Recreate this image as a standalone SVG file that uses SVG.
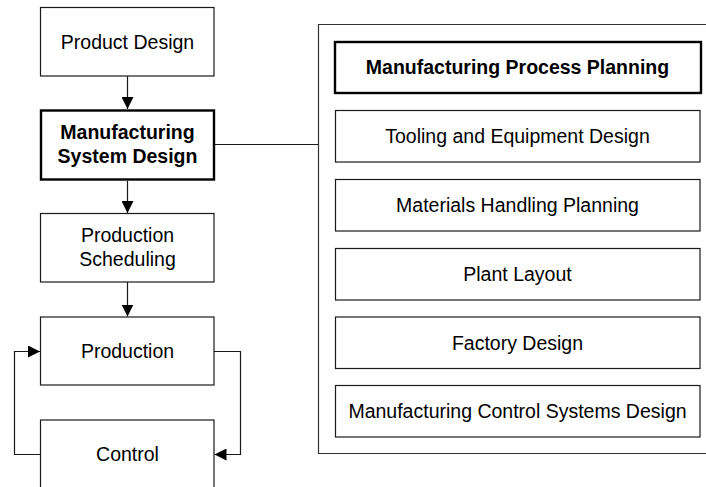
<svg xmlns="http://www.w3.org/2000/svg" width="706" height="487" viewBox="0 0 706 487">
  <defs>
    <style>
      .box { fill: #ffffff; stroke: #1a1a1a; stroke-width: 1.2; }
      .key { fill: #ffffff; stroke: #000000; stroke-width: 2.4; }
      .frame { fill: none; stroke: #333333; stroke-width: 1.2; }
      .link { fill: none; stroke: #1a1a1a; stroke-width: 1.2; }
      .label { font-family: "Liberation Sans", Arial, sans-serif; font-size: 19.5px; fill: #000000; text-anchor: middle; }
      .bold { font-weight: bold; }
    </style>
    <marker id="arrow" viewBox="0 0 12 12" refX="12" refY="6" markerWidth="12" markerHeight="12" markerUnits="userSpaceOnUse" orient="auto">
      <path d="M0,0 L12,6 L0,12 Z" fill="#000000"/>
    </marker>
  </defs>

  <rect id="background" x="0" y="0" width="706" height="487" fill="#ffffff"/>

  <!-- planning activities frame (open to the right) -->
  <g id="planning-frame">
    <path class="frame" d="M710,24.5 L318.5,24.5 L318.5,453.5 L710,453.5"/>
  </g>

  <!-- connectors -->
  <g id="connectors">
    <line class="link" x1="127.5" y1="76" x2="127.5" y2="109" marker-end="url(#arrow)"/>
    <line class="link" x1="127.5" y1="181" x2="127.5" y2="213" marker-end="url(#arrow)"/>
    <line class="link" x1="127.5" y1="282" x2="127.5" y2="316.5" marker-end="url(#arrow)"/>
    <line class="link" x1="215" y1="144.5" x2="318.5" y2="144.5"/>
    <polyline class="link" points="214,351.5 240.5,351.5 240.5,454.5 214.5,454.5" marker-end="url(#arrow)"/>
    <polyline class="link" points="40.5,454.5 14.5,454.5 14.5,351.5 40,351.5" marker-end="url(#arrow)"/>
  </g>

  <g id="product-design">
    <rect class="box" x="40.5" y="7.5" width="173.5" height="68.5"/>
    <text class="label" x="127.5" y="48.5">Product Design</text>
  </g>

  <g id="manufacturing-system-design">
    <rect class="key" x="41" y="110.5" width="173" height="69"/>
    <text class="label bold" x="127.5" y="139">Manufacturing</text>
    <text class="label bold" x="127.5" y="163">System Design</text>
  </g>

  <g id="production-scheduling">
    <rect class="box" x="40.5" y="213.5" width="173.5" height="68.5"/>
    <text class="label" x="127.5" y="242">Production</text>
    <text class="label" x="127.5" y="266">Scheduling</text>
  </g>

  <g id="production">
    <rect class="box" x="40.5" y="317" width="173.5" height="68"/>
    <text class="label" x="127.5" y="357.5">Production</text>
  </g>

  <g id="control">
    <rect class="box" x="40.5" y="420" width="173.5" height="90"/>
    <text class="label" x="127.5" y="461">Control</text>
  </g>

  <g id="manufacturing-process-planning">
    <rect class="key" x="335" y="42" width="366" height="51"/>
    <text class="label bold" x="517.5" y="74">Manufacturing Process Planning</text>
  </g>

  <g id="tooling-and-equipment-design">
    <rect class="box" x="335.5" y="110.5" width="364.5" height="51.5"/>
    <text class="label" x="517.5" y="143">Tooling and Equipment Design</text>
  </g>

  <g id="materials-handling-planning">
    <rect class="box" x="335.5" y="179.5" width="364.5" height="51.5"/>
    <text class="label" x="517.5" y="212">Materials Handling Planning</text>
  </g>

  <g id="plant-layout">
    <rect class="box" x="335.5" y="248.5" width="364.5" height="51.5"/>
    <text class="label" x="517.5" y="281">Plant Layout</text>
  </g>

  <g id="factory-design">
    <rect class="box" x="335.5" y="317" width="364.5" height="51.5"/>
    <text class="label" x="517.5" y="349.5">Factory Design</text>
  </g>

  <g id="manufacturing-control-systems-design">
    <rect class="box" x="335.5" y="385.5" width="364.5" height="51.5"/>
    <text class="label" x="517.5" y="418">Manufacturing Control Systems Design</text>
  </g>
</svg>
